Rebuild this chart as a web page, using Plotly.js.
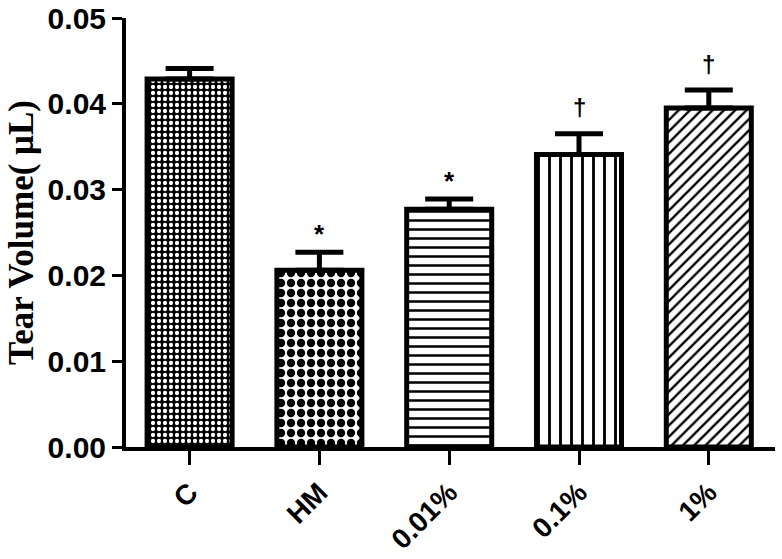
<!DOCTYPE html>
<html>
<head>
<meta charset="utf-8">
<script src="https://cdn.plot.ly/plotly-3.0.1.min.js"></script>
<style>html,body{margin:0;padding:0;background:#fff;}#chart{width:782px;height:559px;}</style>
</head>
<body>
<div id="chart"></div>
<script>
const categories = ["C", "HM", "0.01%", "0.1%", "1%"];
const tearVolume = [0.0429, 0.0206, 0.0277, 0.0341, 0.0395];
const errorUpper = [0.0012, 0.0021, 0.0012, 0.0024, 0.0021];
const significance = ["", "*", "*", "†", "†"];
const patternShapes = [".", ".", "-", "|", "/"];
const patternFg = ["#ffffff", "#000000", "#000000", "#000000", "#000000"];
const patternBg = ["#000000", "#ffffff", "#ffffff", "#ffffff", "#ffffff"];
const patternSize = [6, 10, 9, 11, 8];
const patternSolidity = [0.4, 0.55, 0.28, 0.26, 0.3];

const traces = categories.map((c, i) => ({
  type: "bar",
  x: [c],
  y: [tearVolume[i]],
  width: 0.655,
  marker: {
    color: patternBg[i],
    line: {color: "#000000", width: 5},
    pattern: {
      shape: patternShapes[i],
      fgcolor: patternFg[i],
      bgcolor: patternBg[i],
      fgopacity: 1,
      size: patternSize[i],
      solidity: patternSolidity[i],
      fillmode: "replace"
    }
  },
  error_y: {
    type: "data",
    symmetric: false,
    array: [errorUpper[i]],
    arrayminus: [0],
    color: "#000000",
    thickness: 5,
    width: 24
  },
  hoverinfo: "skip"
}));

const annotations = categories.map((c, i) => ({
  x: c,
  y: tearVolume[i] + errorUpper[i],
  yshift: significance[i] === "*" ? 18 : 26,
  text: significance[i],
  showarrow: false,
  font: {family: "Liberation Sans, Arial, sans-serif", size: significance[i] === "*" ? 26 : 24, color: "#000", weight: "bold"},
  xanchor: "center",
  yanchor: "middle"
})).filter(a => a.text);

const layout = {
  width: 782,
  height: 559,
  margin: {l: 126, r: 7, t: 18, b: 112},
  paper_bgcolor: "#ffffff",
  plot_bgcolor: "#ffffff",
  showlegend: false,
  barmode: "overlay",
  xaxis: {
    type: "category",
    categoryorder: "array",
    categoryarray: categories,
    range: [-0.49, 4.51],
    showline: true,
    linecolor: "#000",
    linewidth: 4,
    ticks: "outside",
    ticklen: 14,
    tickwidth: 3,
    tickcolor: "#000",
    tickangle: -45,
    tickfont: {family: "Liberation Sans, Arial, sans-serif", size: 28, color: "#000", weight: "bold"},
    showgrid: false,
    zeroline: false,
    fixedrange: true
  },
  yaxis: {
    range: [0, 0.05],
    tickvals: [0, 0.01, 0.02, 0.03, 0.04, 0.05],
    ticktext: ["0.00", "0.01", "0.02", "0.03", "0.04", "0.05"],
    showline: true,
    linecolor: "#000",
    linewidth: 4,
    ticks: "outside",
    ticklen: 10,
    tickwidth: 3,
    tickcolor: "#000",
    tickfont: {family: "Liberation Sans, Arial, sans-serif", size: 30, color: "#000", weight: "bold"},
    showgrid: false,
    zeroline: false,
    title: {text: "Tear Volume( μL)", font: {family: "Liberation Serif, Times New Roman, serif", size: 35, color: "#000", weight: "bold"}, standoff: 4},
    fixedrange: true
  },
  annotations: annotations
};

Plotly.newPlot("chart", traces, layout, {displayModeBar: false, staticPlot: true});
</script>
</body>
</html>
